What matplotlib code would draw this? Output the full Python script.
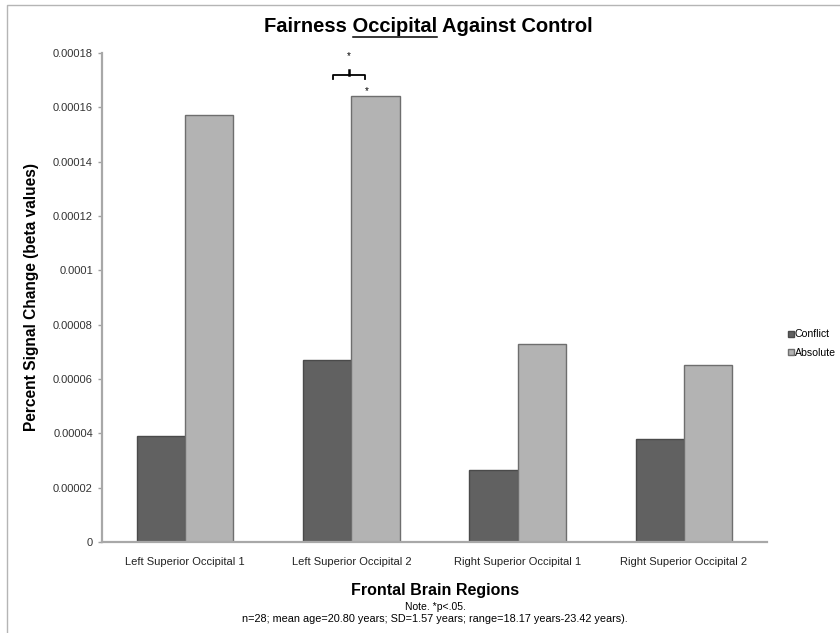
import matplotlib.pyplot as plt
import numpy as np
from matplotlib.lines import Line2D

plt.rcParams['font.family'] = ['Liberation Sans', 'DejaVu Sans']

# Data
regions = ["Left Superior Occipital 1", "Left Superior Occipital 2",
           "Right Superior Occipital 1", "Right Superior Occipital 2"]
conflict = [0.000039, 0.000067, 0.0000265, 0.000038]
absolute = [0.000157, 0.000164, 0.000073, 0.000065]
yticks = [0, 0.00002, 0.00004, 0.00006, 0.00008, 0.0001, 0.00012, 0.00014, 0.00016, 0.00018]

fig = plt.figure(figsize=(8.4, 6.33), dpi=100)
ax = fig.add_axes([102 / 840, 1 - 542 / 633, 665 / 840, 489 / 633])

x = np.arange(len(regions))
w = 0.29
ax.bar(x - w / 2, conflict, w, color="#616161", edgecolor="#4a4a4a", linewidth=1, label="Conflict")
ax.bar(x + w / 2, absolute, w, color="#b3b3b3", edgecolor="#6e6e6e", linewidth=1, label="Absolute")

ax.set_xlim(-0.5, 3.5)
ax.set_ylim(0, 0.00018)
ax.set_yticks(yticks)
ax.set_yticklabels([f"{v:.5f}".rstrip("0").rstrip(".") for v in yticks])
ax.set_xticks(x)
ax.set_xticklabels(regions)
ax.tick_params(axis="y", labelsize=8, colors="#a0a0a0", labelcolor="#333333", length=3, width=1)
ax.tick_params(axis="x", labelsize=8, length=0, pad=11, labelcolor="#222222")

for s in ["top", "right"]:
    ax.spines[s].set_visible(False)
for s in ["left", "bottom"]:
    ax.spines[s].set_color("#a8a8a8")
    ax.spines[s].set_linewidth(1.6)

fig.text(32 / 840, 1 - 297 / 633, "Percent Signal Change (beta values)", rotation=90,
         ha="center", va="center", fontsize=11.2, fontweight="bold")
fig.text(435 / 840, 1 - 590 / 633, "Frontal Brain Regions", ha="center", va="center",
         fontsize=11.5, fontweight="bold")
fig.text(435 / 840, 1 - 607 / 633, "Note. *p<.05.", ha="center", va="center", fontsize=7.5)
fig.text(435 / 840, 1 - 619 / 633,
         "n=28; mean age=20.80 years; SD=1.57 years; range=18.17 years-23.42 years).",
         ha="center", va="center", fontsize=7.8)

# significance marks
ax.plot([0.89, 0.89, 1.08, 1.08], [0.0001705, 0.0001719, 0.0001719, 0.0001705], color="black", lw=1.3)
ax.plot([0.985, 0.985], [0.0001719, 0.0001737], color="black", lw=1.8)
ax.text(0.985, 0.000179, "*", ha="center", va="center", fontsize=7)
ax.text(1.094, 0.000166, "*", ha="center", va="center", fontsize=7)

ax.legend(loc="upper left", bbox_to_anchor=(783 / 840, 1 - 324 / 633), bbox_transform=fig.transFigure,
          frameon=False, fontsize=7.6, handlelength=0.5, handleheight=0.5, handletextpad=0.12,
          labelspacing=0.8, borderpad=0)

# title with underlined word
title = fig.text(428.5 / 840, 1 - 27 / 633, "Fairness Occipital Against Control", ha="center", va="center",
                 fontsize=14.5, fontweight="bold")
r = fig.canvas.get_renderer()
bb = title.get_window_extent(r)
t_a = fig.text(0, 0, "Fairness Occipital", fontsize=14.5, fontweight="bold")
t_b = fig.text(0, 0, "Occipital", fontsize=14.5, fontweight="bold")
wa = t_a.get_window_extent(r).width
wb = t_b.get_window_extent(r).width
t_a.remove()
t_b.remove()
x1 = (bb.x0 + wa - wb) / fig.bbox.width
x2 = (bb.x0 + wa) / fig.bbox.width
fig.add_artist(Line2D([x1, x2], [1 - 37 / 633] * 2, transform=fig.transFigure, color="black", lw=1.1))

# chart frame
fig.add_artist(Line2D([7 / 840, 7 / 840, 1], [0, 1 - 5 / 633, 1 - 5 / 633], transform=fig.transFigure,
                      color="#b5b5b5", lw=1))

fig.savefig("out.png", dpi=100)
